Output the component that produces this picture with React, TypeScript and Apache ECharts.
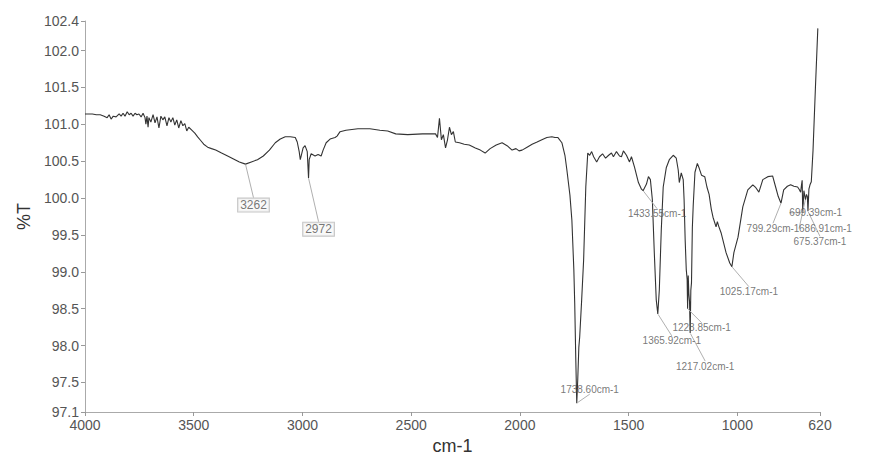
import React, { useEffect, useRef } from 'react';
import * as echarts from 'echarts';

const wavenumbers = [
  4000, 3966, 3948, 3930, 3912, 3898, 3889, 3880, 3870, 3857, 3843, 3834, 3825, 3816, 3806, 3797, 3788, 3779, 3770, 3761,
  3752, 3742, 3733, 3724, 3720, 3715, 3710, 3706, 3697, 3687, 3678, 3669, 3660, 3651, 3642, 3633, 3623, 3614, 3605, 3596,
  3587, 3578, 3569, 3559, 3550, 3541, 3532, 3523, 3509, 3495, 3482, 3468, 3454, 3436, 3418, 3399, 3372, 3344, 3317, 3290,
  3262, 3235, 3207, 3180, 3152, 3125, 3102, 3079, 3056, 3033, 3024, 3015, 3010, 3006, 2997, 2988, 2978, 2972, 2969, 2960,
  2942, 2928, 2914, 2905, 2891, 2873, 2850, 2841, 2827, 2800, 2745, 2690, 2644, 2608, 2571, 2516, 2448, 2388, 2379, 2370,
  2361, 2352, 2342, 2333, 2324, 2315, 2306, 2297, 2278, 2256, 2233, 2205, 2182, 2160, 2137, 2109, 2082, 2059, 2036, 2018,
  2004, 1990, 1967, 1944, 1921, 1899, 1876, 1853, 1839, 1825, 1807, 1793, 1784, 1770, 1761, 1752, 1748, 1743, 1738.6, 1734,
  1729, 1725, 1716, 1707, 1697, 1688, 1679, 1670, 1661, 1647, 1634, 1620, 1606, 1592, 1579, 1570, 1556, 1542, 1533, 1524,
  1510, 1496, 1487, 1473, 1455, 1441, 1433.55, 1418, 1409, 1400, 1391, 1382, 1373, 1365.92, 1359, 1350, 1341, 1327, 1313, 1295,
  1281, 1272, 1267, 1258, 1249, 1245, 1240, 1235, 1231, 1228.85, 1226, 1223, 1220, 1217.02, 1214, 1211, 1207, 1203, 1195, 1184,
  1175, 1165, 1150, 1140, 1130, 1120, 1112, 1098, 1092, 1086, 1075, 1052, 1035, 1025.17, 1016, 997, 975, 952, 929, 915,
  901, 883, 860, 838, 824, 812, 799.29, 787, 770, 755, 740, 723, 716, 709, 705, 702, 699.39, 694, 690, 686.91,
  682, 678, 675.37, 671, 666, 660, 652, 641, 630
];

const transmittance = [
  101.14, 101.14, 101.13, 101.13, 101.11, 101.09, 101.13, 101.07, 101.11, 101.10, 101.14, 101.11, 101.15, 101.11, 101.17, 101.13, 101.15, 101.11, 101.15, 101.13,
  101.14, 101.10, 101.15, 101.09, 101.00, 101.11, 100.96, 101.09, 101.03, 101.13, 101.02, 101.10, 100.95, 101.11, 101.06, 101.10, 100.98, 101.09, 101.03, 101.09,
  100.99, 101.06, 100.95, 101.05, 100.98, 101.01, 100.91, 100.96, 100.92, 100.88, 100.83, 100.78, 100.73, 100.69, 100.67, 100.65, 100.61, 100.57, 100.53, 100.49,
  100.46, 100.49, 100.52, 100.57, 100.65, 100.75, 100.80, 100.83, 100.83, 100.82, 100.76, 100.63, 100.52, 100.57, 100.68, 100.71, 100.63, 100.27, 100.52, 100.60,
  100.57, 100.59, 100.57, 100.65, 100.75, 100.80, 100.82, 100.84, 100.90, 100.92, 100.94, 100.94, 100.92, 100.91, 100.87, 100.86, 100.87, 100.87, 100.82, 101.08,
  100.79, 100.86, 100.68, 100.79, 100.96, 100.86, 100.90, 100.76, 100.75, 100.73, 100.72, 100.68, 100.65, 100.61, 100.67, 100.72, 100.75, 100.71, 100.65, 100.67,
  100.64, 100.65, 100.69, 100.73, 100.76, 100.79, 100.82, 100.83, 100.82, 100.82, 100.75, 100.58, 100.38, 100.04, 99.70, 99.03, 98.58, 97.81, 97.22, 97.54,
  97.98, 98.12, 98.62, 99.16, 100.15, 100.61, 100.58, 100.63, 100.56, 100.49, 100.56, 100.60, 100.54, 100.58, 100.61, 100.56, 100.63, 100.57, 100.56, 100.64,
  100.58, 100.49, 100.56, 100.42, 100.21, 100.12, 100.10, 100.19, 100.29, 100.25, 99.98, 99.26, 98.62, 98.43, 98.75, 99.56, 100.15, 100.41, 100.52, 100.58,
  100.54, 100.38, 100.21, 100.34, 100.25, 99.98, 99.43, 99.03, 98.90, 98.50, 98.95, 98.70, 98.60, 98.17, 98.75, 98.85, 99.60, 99.90, 100.35, 100.47,
  100.40, 100.31, 100.29, 100.15, 100.05, 99.85, 99.74, 99.61, 99.68, 99.62, 99.53, 99.26, 99.12, 99.07, 99.26, 99.47, 99.88, 100.11, 100.18, 100.14,
  100.08, 100.25, 100.29, 100.30, 100.15, 100.02, 99.93, 100.11, 100.16, 100.18, 100.16, 100.15, 100.12, 100.08, 100.18, 100.24, 99.80, 100.10, 100.03, 99.98,
  100.05, 100.02, 99.82, 100.12, 100.18, 100.22, 100.65, 101.50, 102.30
];

const peakWavenumbers = [3262, 2972, 1738.6, 1433.55, 1365.92, 1228.85, 1217.02, 1025.17, 799.29, 699.39, 686.91, 675.37];
const peakLabels = ['3262', '2972', '1738.60cm-1', '1433.55cm-1', '1365.92cm-1', '1228.85cm-1', '1217.02cm-1', '1025.17cm-1', '799.29cm-1', '699.39cm-1', '686.91cm-1', '675.37cm-1'];
const boxedPeaks = [true, true, false, false, false, false, false, false, false, false, false, false];

const xTicks = [4000, 3500, 3000, 2500, 2000, 1500, 1000, 620];
const yTicks = [97.1, 97.5, 98.0, 98.5, 99.0, 99.5, 100.0, 100.5, 101.0, 101.5, 102.0, 102.4];

// label offsets (px) from each peak, layout only
const labelOffsets = [[8, 41], [10, 51], [13, -14], [14, 23], [14, 27], [14, 19], [15, 33], [17, 25], [-8, 25], [13, 0], [20, 29], [12, 30]];

const FONT = '"Liberation Sans", Arial, sans-serif';

export default function App() {
  const ref = useRef<HTMLDivElement>(null);
  useEffect(() => {
    if (!ref.current) return;
    const chart = echarts.init(ref.current, null, { renderer: 'svg' });
    const lineData = wavenumbers.map((w, i) => [w, transmittance[i]]);
    const peakData = peakWavenumbers.map((w, i) => {
      const t = transmittance[wavenumbers.indexOf(w)];
      const boxed = boxedPeaks[i];
      return {
        value: [w, t],
        label: boxed
          ? { fontSize: 12, color: '#555', borderColor: '#b5b5b5', borderWidth: 1, backgroundColor: '#f7f7f7', padding: [1, 2, 0, 2] }
          : { fontSize: 10, color: '#555' },
      };
    });
    chart.setOption({
      animation: false,
      backgroundColor: '#ffffff',
      textStyle: { fontFamily: FONT },
      grid: { left: 85, right: 55, top: 21, bottom: 43, outerBoundsMode: 'none' },
      xAxis: {
        type: 'value',
        inverse: true,
        min: 620,
        max: 4000,
        name: 'cm-1',
        nameLocation: 'middle',
        nameGap: 15,
        nameTextStyle: { fontSize: 18, color: '#333', fontFamily: FONT, verticalAlign: 'top' },
        axisLine: { show: true, lineStyle: { color: '#aaa', width: 1 } },
        axisTick: { show: true, length: 4, customValues: xTicks, lineStyle: { color: '#999' } },
        axisLabel: {
          customValues: xTicks, fontSize: 14, color: '#555', margin: 6, fontFamily: FONT,
          showMinLabel: true, showMaxLabel: true, formatter: (v: number) => String(v),
        },
        splitLine: { show: false },
      },
      yAxis: {
        type: 'value',
        min: 97.1,
        max: 102.4,
        name: '%T',
        nameLocation: 'middle',
        nameRotate: 90,
        nameGap: 45,
        nameTextStyle: { fontSize: 18, color: '#333', fontFamily: FONT },
        axisLine: { show: true, lineStyle: { color: '#aaa', width: 1 } },
        axisTick: { show: true, length: 4, customValues: yTicks, lineStyle: { color: '#999' } },
        axisLabel: { customValues: yTicks, fontSize: 14, color: '#555', margin: 6, fontFamily: FONT, formatter: (v: number) => v.toFixed(1) },
        splitLine: { show: false },
      },
      series: [
        {
          type: 'line',
          data: lineData,
          showSymbol: false,
          symbol: 'none',
          lineStyle: { color: '#333333', width: 1.1 },
          silent: true,
          z: 2,
        },
        {
          type: 'scatter',
          data: peakData,
          symbolSize: 1,
          itemStyle: { color: 'rgba(0,0,0,0)' },
          silent: true,
          z: 3,
          label: {
            show: true,
            position: 'inside',
            align: 'center',
            verticalAlign: 'middle',
            fontFamily: FONT,
            formatter: (p: any) => peakLabels[p.dataIndex],
          },
          labelLine: { show: true, lineStyle: { color: '#b0b0b0', width: 1 } },
          labelLayout: (p: any) => {
            const o = labelOffsets[p.dataIndex];
            return { dx: o[0], dy: o[1] };
          },
        },
      ],
    });
    return () => chart.dispose();
  }, []);
  return <div ref={ref} style={{ position: 'fixed', left: 0, top: 0, width: 875, height: 455, background: '#fff' }} />;
}
